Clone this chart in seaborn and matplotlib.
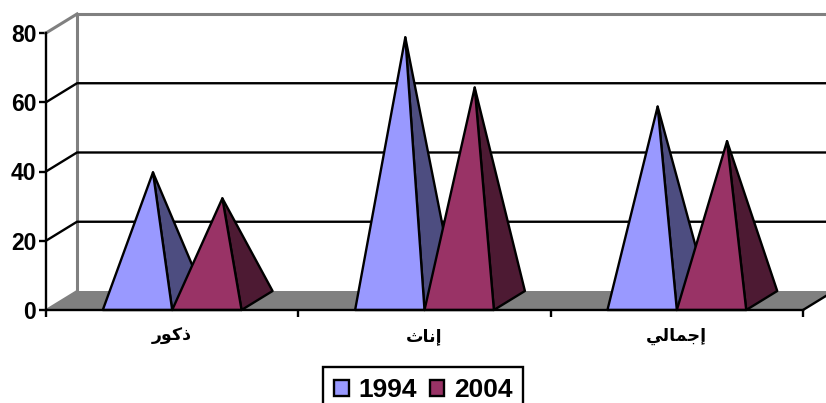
import matplotlib
matplotlib.use("Agg")
import matplotlib.pyplot as plt
from matplotlib.patches import Polygon, Patch
import pandas as pd
import seaborn as sns

# Values
categories = ["ذكور", "إناث", "إجمالي"]
years = ["1994", "2004"]
values_1994 = [37, 76, 56]
values_2004 = [29.5, 61.5, 46]
y_ticks = [0, 20, 40, 60, 80]

# Colours: (front face, shaded side) for each year
face_colors = {"1994": ("#9999FF", "#4D4D80"), "2004": ("#993366", "#4D1A33")}
WALL = "#808080"

# Oblique depth of the chart box, in category and value units
DEPTH_X = 0.1229
DEPTH_Y = 5.49

# Contextual letter forms (isolated, final, initial, medial)
FORMS = {
    "ذ": ("\uFEAB", "\uFEAC", None, None),
    "ر": ("\uFEAD", "\uFEAE", None, None),
    "و": ("\uFEED", "\uFEEE", None, None),
    "ا": ("\uFE8D", "\uFE8E", None, None),
    "إ": ("\uFE87", "\uFE88", None, None),
    "ك": ("\uFED9", "\uFEDA", "\uFEDB", "\uFEDC"),
    "ن": ("\uFEE5", "\uFEE6", "\uFEE7", "\uFEE8"),
    "ث": ("\uFE99", "\uFE9A", "\uFE9B", "\uFE9C"),
    "ج": ("\uFE9D", "\uFE9E", "\uFE9F", "\uFEA0"),
    "م": ("\uFEE1", "\uFEE2", "\uFEE3", "\uFEE4"),
    "ل": ("\uFEDD", "\uFEDE", "\uFEDF", "\uFEE0"),
    "ي": ("\uFEF1", "\uFEF2", "\uFEF3", "\uFEF4"),
}


def shape_arabic(word):
    """Join the letters and order them for left-to-right glyph layout."""
    out = []
    for i, ch in enumerate(word):
        joins_prev = i > 0 and FORMS[word[i - 1]][2] is not None
        joins_next = i < len(word) - 1 and FORMS[ch][2] is not None
        iso, fin, ini, med = FORMS[ch]
        if joins_prev and joins_next:
            out.append(med)
        elif joins_prev:
            out.append(fin)
        elif joins_next:
            out.append(ini)
        else:
            out.append(iso)
    return "".join(reversed(out))


sns.set_theme(style="white")
plt.rcParams["font.family"] = ["Liberation Sans", "DejaVu Sans"]
plt.rcParams["font.weight"] = "bold"

W, H = 826, 403
fig = plt.figure(figsize=(W / 100, H / 100), dpi=100)
ax = fig.add_axes([46 / W, 1 - 310 / H, (803 - 46) / W, (310 - 33) / H])

df = pd.DataFrame({
    "category": categories * 2,
    "year": [years[0]] * 3 + [years[1]] * 3,
    "value": values_1994 + values_2004,
})
sns.barplot(data=df, x="category", y="value", hue="year", width=0.55, gap=0,
            legend=False, ax=ax, saturation=1)

ax.set_xlim(-0.5, 2.5)
ax.set_ylim(0, 80)
x_left, x_right = ax.get_xlim()
LW = 1.7


def line(xs, ys, color, lw=LW, z=2):
    ax.plot(xs, ys, color=color, lw=lw, clip_on=False, zorder=z,
            solid_capstyle="projecting")


# Floor of the box
ax.add_patch(Polygon(
    [(x_left, 0), (x_right, 0), (x_right + DEPTH_X, DEPTH_Y), (x_left + DEPTH_X, DEPTH_Y)],
    closed=True, facecolor=WALL, edgecolor="none", clip_on=False, zorder=1))

# Back-wall edges
line([x_left + DEPTH_X, x_left + DEPTH_X], [DEPTH_Y, 80 + DEPTH_Y], WALL, lw=2.2)
line([x_left + DEPTH_X, x_right + DEPTH_X], [80 + DEPTH_Y, 80 + DEPTH_Y], WALL, lw=2.2)
line([x_left, x_left + DEPTH_X], [80, 80 + DEPTH_Y], WALL, lw=2.2)
line([x_left, x_left + DEPTH_X], [0, DEPTH_Y], WALL, lw=1.5)

# Gridlines run along the side wall and across the back wall
for tick in y_ticks[1:-1]:
    line([x_left, x_left + DEPTH_X, x_right + DEPTH_X],
         [tick, tick + DEPTH_Y, tick + DEPTH_Y], "black")

# Right edge of the floor
line([x_right, x_right + DEPTH_X], [0, DEPTH_Y], "black")

# Each hidden bar supplies the base and height of one pyramid
for year, container in zip(years, ax.containers):
    front, side = face_colors[year]
    for bar in container:
        bar.set_visible(False)
        x0 = bar.get_x()
        x1 = x0 + bar.get_width()
        height = bar.get_height()
        apex = ((x0 + x1) / 2 + DEPTH_X / 2, height + DEPTH_Y / 2)
        ax.add_patch(Polygon(
            [(x1, 0), (x1 + DEPTH_X, DEPTH_Y), apex], closed=True, facecolor=side,
            edgecolor="black", lw=LW, joinstyle="round", clip_on=False, zorder=3))
        ax.add_patch(Polygon(
            [(x0, 0), (x1, 0), apex], closed=True, facecolor=front,
            edgecolor="black", lw=LW, joinstyle="round", clip_on=False, zorder=3))

sns.despine(ax=ax, top=True, right=True)
for name in ("left", "bottom"):
    ax.spines[name].set_color("black")
    ax.spines[name].set_linewidth(LW)
    ax.spines[name].set_zorder(5)

ax.set_xlabel("")
ax.set_ylabel("")
ax.set_yticks(y_ticks)
ax.tick_params(axis="y", direction="out", length=5, width=LW, color="black", left=True,
               labelsize=16.5, pad=2, labelcolor="black")
ax.set_xticks([-0.5, 0.5, 1.5, 2.5], labels=[])
ax.tick_params(axis="x", which="major", direction="out", length=5, width=LW, color="black", bottom=True)
ax.set_xticks([0, 1, 2], labels=[shape_arabic(c) for c in categories], minor=True)
ax.tick_params(axis="x", which="minor", length=0, pad=13, labelsize=12.5, labelcolor="black")

handles = [Patch(facecolor=face_colors[y][0], edgecolor="black", lw=LW, label=y) for y in years]
legend = fig.legend(
    handles=handles, ncol=2, loc="upper left", bbox_to_anchor=(323 / W, 1 - 367 / H),
    borderaxespad=0, fontsize=19, frameon=True, fancybox=False, framealpha=1,
    edgecolor="black", handlelength=0.55, handleheight=0.55, handletextpad=0.36,
    columnspacing=0.5, borderpad=0.42, labelcolor="black")
legend.get_frame().set_linewidth(LW)

fig.savefig("out.png", dpi=100, facecolor="white")
